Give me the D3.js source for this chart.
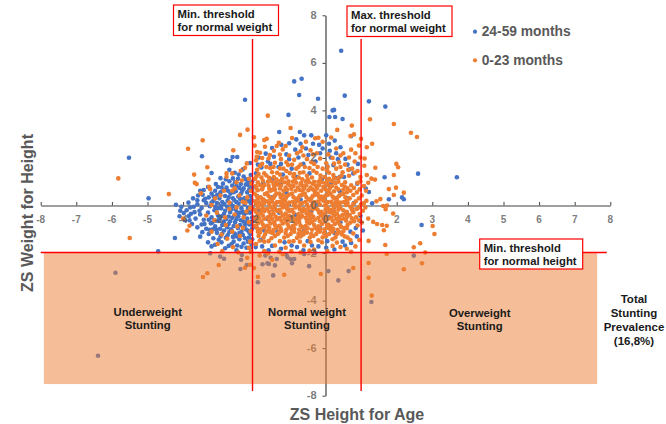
<!DOCTYPE html>
<html><head><meta charset="utf-8">
<script src="https://cdn.jsdelivr.net/npm/d3@7"></script>
<style>html,body{margin:0;padding:0;background:#fff}svg{display:block}text{font-family:"Liberation Sans",Arial,sans-serif;font-weight:bold}</style>
</head><body><svg id="c" width="666" height="424"></svg>
<script>
const tickValues=[-8,-7,-6,-5,-4,-3,-2,-1,0,1,2,3,4,5,6,7,8];
const yTickValues=[-8,-6,-4,-2,0,2,4,6,8];
const thresholds={weightMin:-2.05,weightMax:1.0,heightMin:-1.98};
const blueOutliers=[[-5.52,2.01],[-4.97,.3],[-2.26,4.45],[-.88,5.22],[-.67,5.33],[-.74,4.65],[-.21,4.49],[-1.04,3.81],[-1.3,3.09],[-.72,3.09],[.11,3.72],[.2,4.0],[-3.47,2.07],[-2.78,1.91],[-2.66,1.87],[-2.61,2.04],[-2.48,2.04],[-2.12,1.79],[-3.2,1.37],[.44,6.51],[.54,4.62],[1.22,4.38],[1.68,4.16],[.24,4.02],[.27,3.72],[.48,3.64],[.72,2.92],[2.6,1.34],[3.69,1.19],[1.66,1.19],[2.15,.34],[2.2,.26],[1.78,.26],[1.31,.09],[1.22,.57],[1.13,.71],[.89,.92],[.91,1.75],[.68,1.52],[.56,1.96],[.26,2.73],[.52,1.2],[.4,1.2],[.27,1.15],[2.7,-.82],[-4.7,-1.93],[-4.23,-1.37],[-3.52,-1.31],[-5.9,-2.83],[-6.39,-6.32],[-2.96,-2.15],[-2.85,-2.24],[-3.24,-2.01],[-2.35,-2.08],[-2.37,-2.28],[-2.21,-2.5],[-2.39,-2.67],[-1.77,-2.47],[-1.63,-2.43],[-1.59,-2.46],[-1.42,-2.52],[-1.47,-2.94],[-1.9,-3.23],[-1.69,-2.1],[-1.54,-2.2],[-1.37,-2.25],[-1.07,-2.17],[-.88,-2.25],[-.98,-2.26],[-.94,-2.43],[-.46,-2.55],[.08,-2.76],[-.6,-2.04],[-1.1,-2.06],[-.3,-2.0],[2.48,-2.11],[.65,-2.76],[.36,-3.15],[1.29,-4.06]];
const blueLeft=[[-4.2,.03],[-4.05,-.05],[-3.85,.12],[-3.72,.3],[-3.58,.42],[-3.45,.45],[-3.38,.28],[-3.2,.5],[-3.1,.62],[-3.02,.78],[-2.95,.55],[-2.88,.92],[-2.78,.75],[-2.7,1.02],[-2.62,.84],[-2.54,.98],[-2.46,1.12],[-2.38,.9],[-2.3,.72],[-2.24,1.1],[-2.15,.85],[-2.1,1.28],[-3.9,-.2],[-3.7,-.05],[-3.6,.05],[-3.48,-.1],[-3.35,.1],[-3.25,-.03],[-3.15,.2],[-3.05,.1],[-2.98,.3],[-2.9,.15],[-2.82,.4],[-2.75,.2],[-2.67,.5],[-2.6,.3],[-2.52,.6],[-2.45,.38],[-2.37,.5],[-2.28,.3],[-2.2,.55],[-2.12,.4],[-4.1,-.45],[-3.95,-.62],[-3.78,-.35],[-3.65,-.55],[-3.52,-.38],[-3.42,-.6],[-3.3,-.3],[-3.2,-.5],[-3.12,-.2],[-3.02,-.42],[-2.93,-.12],[-2.85,-.35],[-2.76,-.05],[-2.68,-.28],[-2.6,-.02],[-2.52,-.18],[-2.44,.08],[-2.36,-.12],[-2.27,.05],[-2.18,-.1],[-2.1,.1],[-3.6,-.92],[-3.48,-.8],[-3.35,-.98],[-3.22,-.75],[-3.1,-.88],[-3,-.65],[-2.9,-.82],[-2.8,-.58],[-2.72,-.78],[-2.62,-.52],[-2.54,-.7],[-2.45,-.45],[-2.38,-.62],[-2.28,-.38],[-2.2,-.55],[-2.12,-.3],[-2.06,-.5],[-3.28,-1.2],[-3.15,-1.38],[-3.05,-1.15],[-2.95,-1.3],[-2.85,-1.05],[-2.75,-1.25],[-2.65,-1.0],[-2.55,-1.18],[-2.46,-.95],[-2.36,-1.1],[-2.27,-.85],[-2.18,-1.05],[-2.08,-.8],[-3.1,-1.65],[-2.92,-1.55],[-2.72,-1.7],[-2.58,-1.52],[-2.42,-1.42],[-2.3,-1.6],[-2.15,-1.35],[-2.08,-1.62],[-2.1,-1.2],[-2.22,-1.78]];
const blueLeftExtra=[[-2.06,1.0],[-2.14,.68],[-2.07,.62],[-2.24,.88],[-2.34,.62],[-2.42,.74],[-2.5,.82],[-2.58,.56],[-2.74,.62],[-2.86,.64],[-2.92,.76],[-3.04,.45],[-3.14,.38],[-3.28,.34],[-2.08,.24],[-2.16,.18],[-2.24,.26],[-2.34,.2],[-2.4,.28],[-2.5,.14],[-2.56,.22],[-2.66,.08],[-2.72,.34],[-2.84,.06],[-2.94,-.02],[-3.02,-.12],[-3.1,-.05],[-3.2,.12],[-3.42,.22],[-3.54,-.22],[-3.68,-.28],[-3.84,-.44],[-2.05,-.14],[-2.14,-.24],[-2.22,-.3],[-2.32,-.26],[-2.4,-.3],[-2.48,-.3],[-2.56,-.42],[-2.64,-.16],[-2.72,-.46],[-2.82,-.22],[-2.9,-.44],[-2.98,-.54],[-3.08,-.64],[-3.18,-.72],[-3.28,-.6],[-3.4,-.78],[-2.06,-.66],[-2.14,-.8],[-2.22,-.72],[-2.3,-.68],[-2.4,-.82],[-2.5,-.58],[-2.58,-.86],[-2.68,-.66],[-2.76,-.92],[-2.86,-.7],[-2.96,-.98],[-3.06,-1.02],[-3.16,-1.0],[-3.26,-1.02],[-2.06,-.98],[-2.14,-1.14],[-2.24,-1.0],[-2.32,-1.24],[-2.42,-1.16],[-2.5,-1.3],[-2.6,-1.32],[-2.7,-1.12],[-2.8,-1.36],[-2.9,-1.18],[-3,-1.44],[-2.06,-1.42],[-2.18,-1.52],[-2.26,-1.38],[-2.36,-1.74],[-2.48,-1.68],[-2.64,-1.62],[-2.82,-1.8],[-2.12,-1.78],[-2.5,-1.88],[-2.05,.78],[-2.18,.98],[-2.3,1.22],[-2.44,1.3],[-2.6,1.14],[-2.8,1.1],[-2.95,1.15],[-3.08,.9],[-3.3,.78],[-3.42,.65],[-3.6,.22],[-3.8,-.08],[-3.98,-.32],[-4.08,-.22],[-3.75,-.78],[-3.82,-.62],[-3.46,-1.12],[-3.3,-1.55],[-3.2,-1.72],[-3.52,.62],[-2.55,1.38],[-2.32,1.52],[-2.7,1.5]];
const blueCentre=[[-1.95,1.35],[-1.8,1.6],[-1.62,1.85],[-1.45,2.05],[-1.25,1.75],[-1.1,2.15],[-.85,2.35],[-.7,2.6],[-.55,2.4],[-.4,2.95],[-.18,2.55],[.02,2.95],[.12,2.3],[-.95,1.55],[-.62,1.75],[-.28,1.85],[.05,1.65],[.22,1.7],[-1.75,.95],[-1.5,1.1],[-1.2,1.3],[-.8,1.2],[-.45,1.35],[-.1,1.1],[.15,.9],[.4,.6],[.62,.3],[.8,.1],[.6,-.35],[.42,-.7],[.25,-1.15],[.05,-1.5],[-.2,-1.72],[-.5,-1.5],[-.8,-1.75],[-1.15,-1.55],[-1.5,-1.7],[-1.82,-1.45],[-1.95,-.9],[-1.88,-.2],[-1.92,.4],[-1.72,-1.05],[-1.35,-1.1],[-.95,-.95],[-.6,-1.05],[-.15,-.95],[.1,-.5],[-1.5,.35],[-1.1,.55],[-.7,.25],[-.3,.45],[-1.3,-.3],[-.85,-.4],[-.4,-.25],[.98,-.42],[1.05,-1.05],[.85,-.95],[.55,-1.68],[.7,-1.1],[-1.65,-.55],[-1.25,.9],[-.2,.05],[-1.88,2.02],[-1.68,2.18],[-1.5,2.42],[-1.24,2.55],[-1.02,2.62],[-.82,2.78],[-.6,2.95],[-.35,2.6],[-.08,2.4],[.1,2.6],[.3,2.2],[.42,2.45],[-1.9,1.72],[-1.55,1.75],[-1.32,1.62],[-1.02,1.95],[-.76,2.02],[-.48,2.12],[-.15,2.2],[.15,2.02],[.35,1.95],[.62,1.72],[.78,1.35],[-1.96,-1.75],[-1.6,-1.88],[-1.25,-1.82],[-.62,-1.88],[-.38,-1.68],[.25,-1.85],[.48,-1.52],[.72,-1.58],[.88,-1.3],[-1.78,-1.72],[-.95,-1.68],[.02,-1.78]];
const orangeOutliers=[[1.25,3.63],[1.92,3.43],[2.4,3.06],[2.57,2.88],[.74,3.36],[.33,3.18],[.8,2.99],[.7,2.92],[1,2.81],[.94,2.52],[1.31,2.6],[1.16,2.45],[1.99,1.75],[2.04,1.61],[1.4,1.59],[1.92,1.28],[1.09,1.67],[1.29,1.13],[1.39,1.09],[1.16,1.28],[1.78,.69],[1.98,.75],[1.92,.44],[2.2,.54],[1.54,.27],[1.43,.18],[1.62,-.02],[1.73,0],[1.69,-.16],[1.9,-.34],[1.2,-.55],[1.34,-.69],[1.45,-.78],[1.59,-.82],[1.72,-.85],[1.64,-1.04],[3.01,-.86],[3.06,-1.2],[2.66,-1.59],[2.48,-1.76],[1.68,-1.66],[1.21,-1.49],[.95,-1.45],[2.8,-1.98],[1.72,-2.04],[1.21,-2.42],[2.71,-2.43],[2.2,-2.68],[.78,-2.63],[1.21,-3.04],[1.3,-3.79],[-5.5,-1.37],[-3.44,-3.01],[-3.32,-2.85],[-3,-2.5],[-2.26,-2.62],[-2.12,-2.49],[-2.01,-2.63],[-1.9,-3],[-1.16,-2.91],[-.13,-2.88],[-2.2,-2.2],[-1.85,-2.1],[-1.5,-2.28],[-1.2,-2.05],[-1.62,-2.02],[-5.82,1.14],[-4.4,.48],[-3.86,2.39],[-3.45,2.74],[-3.69,1.3],[-3.32,1.61],[-3.67,.96],[-3.62,.9],[-3.29,1.1],[-3.27,.79],[-3.24,.69],[-3.5,.51],[-2.59,2.32],[-2.4,2.97],[-2.19,3.19],[-1.62,3.78],[-.98,3.26],[-2.01,2.87],[-.94,2.84],[-1.72,2.75],[-1.65,2.81],[-1.31,2.64],[-1.99,2.52],[-1.7,2.47],[-1.45,2.3],[-1.37,2.5],[-1.2,2.36],[-2.21,1.77],[-2.26,1.59],[-2.38,1.46],[-2.62,1.35],[-2.78,1.35],[-2.78,1.21],[-1.92,2.25],[-1.84,2.22],[-1.93,2.05],[-.55,2.68],[-.29,2.83],[-.2,2.85],[-.42,2.32],[-.35,2.15],[-.8,2.2],[-.7,2.28],[-4,-.55],[-3.82,-.85],[-3.88,-1.05],[-3.2,-1.1],[-3.1,.3],[-2.85,.62],[-2.55,.72],[-2.35,1.05],[-2.15,1.12],[-2.42,.42],[-2.7,.12],[-2.25,.12],[-3.05,-.3],[-2.55,-.38],[-2.22,-.25],[-2.8,-.82],[-2.48,-.88],[-2.15,-.7],[-3.03,-1.62],[-2.6,-1.75],[-2.4,-1.28],[-2.12,-1.52],[-2.9,-1.92],[-2.45,-1.98],[-2.1,-1.95],[-2.76,-1.4]];
const orangeLeftExtra=[[-2.1,.62],[-2.32,.16],[-2.62,.62],[-2.95,.42],[-3.2,.02],[-2.5,-.08],[-2.82,-.5],[-3.12,-.62],[-2.3,-.5],[-2.1,-1.08],[-2.62,-1.1],[-2.32,-.94],[-2.92,-1.22],[-2.12,-.12],[-2.2,.34],[-2.08,.92],[-2.5,.98],[-3.35,-.42],[-2.15,-1.78],[-2.7,-.15]];
const orangeDense=[[-1.95,1.9],[-1.78,1.75],[-1.6,1.98],[-1.42,1.8],[-1.25,1.95],[-1.05,1.7],[-.88,1.92],[-.7,1.72],[-.52,1.95],[-.32,1.75],[-.15,1.98],[.02,1.78],[.2,2],[.38,1.82],[.55,1.72],[.75,1.55],[.9,1.45],[-1.92,1.5],[-1.72,1.35],[-1.55,1.58],[-1.36,1.38],[-1.18,1.55],[-1,1.36],[-.82,1.55],[-.62,1.4],[-.45,1.58],[-.25,1.38],[-.08,1.55],[.1,1.38],[.3,1.55],[.48,1.4],[.66,1.25],[.82,1.38],[.98,1.2],[-1.98,1.12],[-1.8,1.18],[-1.62,1.0],[-1.45,1.2],[-1.28,1.02],[-1.1,1.18],[-.92,1],[-.75,1.18],[-.55,1],[-.38,1.18],[-.2,1],[-.02,1.2],[.18,1.02],[.36,1.15],[.55,.98],[.72,.85],[.9,.95],[1.08,.82],[-1.96,.82],[-1.78,.68],[-1.6,.84],[-1.42,.66],[-1.25,.84],[-1.08,.66],[-.9,.82],[-.72,.65],[-.54,.84],[-.36,.68],[-.18,.85],[0,.68],[.18,.82],[.36,.68],[.54,.8],[.7,.62],[.88,.55],[1.02,.42],[1.15,.2],[-1.99,.5],[-1.82,.35],[-1.64,.52],[-1.46,.32],[-1.3,.5],[-1.12,.3],[-.94,.5],[-.76,.32],[-.58,.5],[-.4,.3],[-.22,.5],[-.04,.32],[.14,.5],[.32,.32],[.5,.48],[.68,.3],[.85,.18],[1.0,.05],[-1.97,.18],[-1.8,.02],[-1.62,.18],[-1.44,0],[-1.28,.16],[-1.1,0],[-.92,.16],[-.74,-.02],[-.56,.16],[-.38,0],[-.2,.18],[-.02,0],[.16,.16],[.34,-.02],[.52,.14],[.7,-.05],[.88,-.15],[1.05,-.22],[-1.99,-.18],[-1.82,-.32],[-1.64,-.15],[-1.46,-.34],[-1.3,-.18],[-1.12,-.34],[-.94,-.18],[-.76,-.36],[-.58,-.18],[-.4,-.36],[-.22,-.18],[-.04,-.35],[.14,-.18],[.32,-.35],[.5,-.2],[.68,-.4],[.86,-.5],[-1.97,-.52],[-1.8,-.68],[-1.62,-.5],[-1.44,-.7],[-1.28,-.52],[-1.1,-.68],[-.92,-.5],[-.74,-.7],[-.56,-.52],[-.38,-.7],[-.2,-.52],[-.02,-.68],[.16,-.52],[.34,-.68],[.52,-.56],[.7,-.72],[1.02,-.72],[-1.98,-.85],[-1.82,-1],[-1.64,-.85],[-1.46,-1.02],[-1.3,-.85],[-1.1,-1.02],[-.92,-.86],[-.74,-1.02],[-.56,-.86],[-.38,-1.02],[-.2,-.88],[-.02,-1],[.16,-.88],[.34,-1.02],[.54,-.95],[.78,-1.18],[-1.88,-1.28],[-1.7,-1.22],[-1.52,-1.38],[-1.34,-1.2],[-1.16,-1.35],[-.98,-1.2],[-.8,-1.36],[-.62,-1.22],[-.44,-1.35],[-.26,-1.2],[-.08,-1.34],[.1,-1.2],[.28,-1.34],[.46,-1.22],[.62,-1.35],[-1.95,-1.62],[-1.72,-1.52],[-1.42,-1.68],[-1.12,-1.78],[-.9,-1.5],[-.6,-1.68],[-.32,-1.85],[-.1,-1.55],[.2,-1.7],[.42,-1.75],[.6,-1.82],[.72,-1.95],[-1.72,-1.92],[-1.3,-1.95],[-.96,-1.92],[-.7,-1.98],[-.45,-1.9],[.05,-1.92],[-1.5,.66],[-1.2,.44],[-.85,.1],[-.65,.62],[-.3,.58],[.08,.6],[.28,.12],[-1.55,-.42],[-1.02,-.6],[-.5,-.62],[.08,-.8],[-1.55,-1.12],[-.7,-1.12],[.2,-1.1],[-1.72,.22],[-1.38,1.1],[-.65,1.1],[.1,1.12],[.45,1.25],[-1.18,.1],[-.48,-.1],[.24,-.1],[.62,.1],[-.88,1.32],[-.12,.38],[-.75,-.6]];
const orangeCore=[[-1.88,1.32],[-1.66,1.26],[-1.5,1.4],[-1.28,1.3],[-1.1,1.45],[-.9,1.22],[-.72,1.38],[-.52,1.25],[-.34,1.46],[-.14,1.26],[.04,1.48],[.22,1.28],[-1.9,.98],[-1.72,.86],[-1.52,1.02],[-1.36,.88],[-1.16,.98],[-1,.84],[-.82,.96],[-.64,.82],[-.46,.98],[-.28,.84],[-.1,.98],[.08,.86],[.28,.94],[.46,.86],[.62,.72],[.8,.74],[.96,.68],[-1.9,.64],[-1.7,.48],[-1.54,.62],[-1.38,.5],[-1.18,.62],[-1.02,.46],[-.84,.62],[-.66,.44],[-.48,.64],[-.3,.44],[-.12,.62],[.06,.44],[.24,.6],[.42,.46],[.6,.56],[.78,.44],[.94,.3],[1.08,.1],[-1.9,.28],[-1.72,.1],[-1.54,.3],[-1.36,.14],[-1.2,.26],[-1.02,.12],[-.84,.28],[-.66,.1],[-.48,.26],[-.3,.14],[-.12,.28],[.06,.14],[.24,.3],[.42,.12],[.6,.22],[.78,.06],[.94,-.08],[1.12,-.08],[-1.9,-.08],[-1.72,-.24],[-1.54,-.06],[-1.36,-.22],[-1.2,-.08],[-1.02,-.24],[-.84,-.08],[-.66,-.26],[-.48,-.28],[-.3,-.1],[-.12,-.26],[.06,-.1],[.24,-.24],[.42,-.1],[.6,-.26],[.78,-.28],[.96,-.36],[-1.9,-.42],[-1.72,-.56],[-1.54,-.4],[-1.36,-.58],[-1.2,-.42],[-1.02,-.44],[-.84,-.6],[-.66,-.44],[-.48,-.42],[-.3,-.6],[-.12,-.42],[.06,-.58],[.24,-.42],[.42,-.58],[.6,-.48],[.8,-.66],[.94,-.62],[-1.9,-.76],[-1.72,-.92],[-1.54,-.76],[-1.38,-.94],[-1.2,-.76],[-1.02,-.92],[-.84,-.78],[-.64,-.92],[-.46,-.76],[-.28,-.94],[-.1,-.78],[.08,-.94],[.26,-.78],[.44,-.9],[.62,-.82],[.9,-.84],[-1.9,-1.1],[-1.74,-1.34],[-1.6,-1.02],[-1.42,-1.28],[-1.24,-1.06],[-1.06,-1.28],[-.88,-1.1],[-.7,-1.3],[-.52,-1.14],[-.34,-1.28],[-.16,-1.1],[.02,-1.28],[.2,-1.42],[.38,-1.12],[.54,-1.3],[.7,-1.45],[-1.85,-1.48],[-1.6,-1.5],[-1.28,-1.5],[-1.02,-1.52],[-.72,-1.52],[-.42,-1.54],[-.2,-1.46],[.32,-1.56],[.84,-1.72],[-1.84,1.66],[-1.66,1.62],[-1.46,1.62],[-1.28,1.56],[-1.1,1.82],[-.94,1.72],[-.76,1.62],[-.58,1.62],[-.4,1.82],[-.22,1.62],[.06,1.62],[.24,1.76],[.42,1.62],[.64,1.5],[.98,1.02],[1.14,.62],[1.2,.96],[-1.56,2.12],[-1.28,2.14],[-1.02,2.1],[-.62,2.1],[-.24,2.2],[.08,2.15],[.3,2.4],[.5,2.2],[.66,2.02],[.82,1.85],[.98,2.02],[1.1,1.98],[-1.78,2.0],[-1.12,2.5],[-.65,2.45],[-.08,2.68],[.16,2.86],[.42,2.1],[.84,2.2],[.72,2.35]];
const orangeFill=[[-1.94,1.22],[-1.76,1.04],[-1.58,1.16],[-1.4,.98],[-1.22,1.12],[-1.04,1.02],[-.86,1.1],[-.68,.96],[-.5,1.1],[-.32,1],[-.14,1.12],[.04,1.02],[.24,1.14],[-1.94,.72],[-1.76,.78],[-1.58,.7],[-1.44,.78],[-1.28,.72],[-1.12,.76],[-.96,.7],[-.78,.76],[-.6,.72],[-.42,.76],[-.24,.72],[-.06,.78],[.12,.72],[.3,.76],[.5,.66],[-1.93,.4],[-1.76,.26],[-1.6,.4],[-1.42,.42],[-1.26,.36],[-1.08,.4],[-.9,.36],[-.72,.42],[-.54,.36],[-.36,.4],[-.18,.36],[0,.42],[.2,.38],[.38,.4],[.56,.34],[-1.94,.06],[-1.76,.2],[-1.58,.06],[-1.4,.08],[-1.24,.02],[-1.06,.06],[-.88,.02],[-.7,.08],[-.52,.04],[-.34,.08],[-.16,.04],[.02,.08],[.2,.04],[.38,.06],[.58,.02],[.76,-.14],[-1.94,-.28],[-1.76,-.12],[-1.58,-.26],[-1.42,-.14],[-1.26,-.28],[-1.08,-.14],[-.9,-.3],[-.72,-.16],[-.54,-.32],[-.36,-.16],[-.18,-.3],[0,-.18],[.18,-.3],[.36,-.18],[.56,-.34],[.74,-.18],[-1.93,-.64],[-1.76,-.42],[-1.58,-.64],[-1.4,-.46],[-1.24,-.64],[-1.06,-.46],[-.88,-.66],[-.7,-.5],[-.52,-.68],[-.34,-.48],[-.16,-.66],[.02,-.46],[.2,-.64],[.38,-.46],[.58,-.64],[.74,-.54],[-1.92,-.96],[-1.76,-.8],[-1.58,-.94],[-1.42,-.82],[-1.26,-.96],[-1.06,-.8],[-.88,-.96],[-.7,-.84],[-.5,-.96],[-.32,-.82],[-.14,-1],[.04,-.84],[.22,-.98],[.4,-.8],[.6,-.96],[-1.84,-1.14],[-1.66,-1.1],[-1.48,-1.16],[-1.3,-1.12],[-1.12,-1.16],[-.94,-1.04],[-.76,-1.2],[-.58,-1.08],[-.4,-1.2],[-.22,-1.04],[-.04,-1.16],[.14,-1.02],[.32,-1.2],[.5,-1.08],[-1.84,.86],[-1.46,.9],[-1.06,.92],[-.7,.88],[-.36,.92],[0,.92],[.36,1],[-1.86,.12],[-1.5,.16],[-1.14,.2],[-.78,.2],[-.42,.2],[-.06,.2],[.32,.2],[-1.86,-.54],[-1.5,-.56],[-1.14,-.56],[-.78,-.52],[-.42,-.54],[-.06,-.56],[.3,-.56],[-1.8,-.18],[-1.48,-.18],[-1.04,-.16],[-.62,-.14],[-.26,-.12],[.1,-.28],[.48,-.4]];
const allBlue=[...blueOutliers,...blueLeft,...blueLeftExtra,...blueCentre];
const allOrange=[...orangeOutliers,...orangeLeftExtra,...orangeDense,...orangeCore,...orangeFill];

const svg=d3.select('#c');
const x=d3.scaleLinear().domain([-8,8]).range([40.7,610.3]);
const y=d3.scaleLinear().domain([-8,8]).range([395.7,15.3]);
const grey='#595959';
const xAxis=d3.axisBottom(x).tickValues(tickValues).tickSize(0).tickPadding(0).tickFormat(d3.format('d'));
const gx=svg.append('g').attr('transform',`translate(0,${y(0)})`).call(xAxis);
gx.selectAll('.tick line').attr('y1',-3.5).attr('y2',0).attr('stroke','#404040');
gx.select('.domain').attr('stroke','#404040').attr('stroke-width',1.2);
const yAxis=d3.axisLeft(y).tickValues(yTickValues).tickSize(0).tickFormat(d3.format('d'));
const gy=svg.append('g').attr('transform',`translate(${x(0)},0)`).call(yAxis);
gy.selectAll('.tick line').attr('x1',-3).attr('x2',0).attr('stroke','#404040');
gy.select('.domain').attr('stroke','#404040').attr('stroke-width',1.2);
gx.selectAll('text').remove();
gy.selectAll('text').remove();

const dots=(data,color)=>svg.append('g').selectAll('circle').data(data).join('circle')
  .attr('cx',d=>x(d[0])).attr('cy',d=>y(d[1])).attr('r',2.3).attr('fill',color);
dots(allBlue,'#4472c4');
dots(allOrange,'#ed7d31');

// tick labels sit over the points and under the shaded band
const labels=svg.append('g').attr('fill',grey).attr('fill-opacity',.8);
labels.selectAll('.xl').data(tickValues).join('text').attr('x',d=>x(d)).attr('y',y(0)+17.5).attr('text-anchor','middle').attr('font-size',10).text(d=>d);
labels.selectAll('.yl').data(yTickValues).join('text').attr('x',x(0)-9).attr('y',d=>y(d)+3.5).attr('text-anchor','end').attr('font-size',11).text(d=>d);

svg.append('rect').attr('x',x(-7.91)).attr('y',y(thresholds.heightMin)).attr('width',x(7.63)-x(-7.91)).attr('height',y(-7.51)-y(thresholds.heightMin)).attr('fill','#ed7d31').attr('fill-opacity',.5);

const red='#fe0000';
const vline=(v,y1)=>svg.append('line').attr('x1',x(v)).attr('x2',x(v)).attr('y1',y1).attr('y2',y(-7.8)).attr('stroke',red).attr('stroke-width',1.4);
vline(thresholds.weightMin,y(7)); vline(thresholds.weightMax,y(7));
svg.append('line').attr('x1',x(-8)).attr('x2',x(7.9)).attr('y1',y(thresholds.heightMin)).attr('y2',y(thresholds.heightMin)).attr('stroke',red).attr('stroke-width',1.4);

const note=(bx,by,bw,bh,lines)=>{
  svg.append('rect').attr('x',bx).attr('y',by).attr('width',bw).attr('height',bh).attr('fill','#fff').attr('stroke',red).attr('stroke-width',1.2);
  lines.forEach((t,i)=>svg.append('text').attr('x',bx+4).attr('y',by+13+i*13).attr('font-size',11.3).attr('fill','#1a1a1a').text(t));
};
note(173.5,5,105,30.5,['Min. threshold','for normal weight']);
note(347,6,105,30.5,['Max. threshold','for normal weight']);
note(479.7,239,103,30,['Min. threshold','for normal height']);

const centered=(cx,cy,lines,step=13,fs=11.3)=>lines.forEach((t,i)=>svg.append('text').attr('x',cx).attr('y',cy+i*step).attr('text-anchor','middle').attr('font-size',fs).attr('fill','#1a1a1a').text(t));
centered(147.7,316,['Underweight','Stunting']);
centered(307,316,['Normal weight','Stunting']);
centered(479.7,317,['Overweight','Stunting']);
centered(634,303,['Total','Stunting','Prevalence','(16,8%)'],14,11.5);

[['24-59 months','#4472c4',31.7],['0-23 months','#ed7d31',60.3]].forEach(([t,c,py])=>{
  svg.append('circle').attr('cx',475).attr('cy',py).attr('r',2.1).attr('fill',c);
  svg.append('text').attr('x',481.7).attr('y',py+4.5).attr('font-size',13.8).attr('fill',grey).text(t);
});
svg.append('text').attr('x',357).attr('y',419.5).attr('text-anchor','middle').attr('font-size',16).attr('fill',grey).text('ZS Height for Age');
svg.append('text').attr('transform','translate(32.5,213) rotate(-90)').attr('text-anchor','middle').attr('font-size',16).attr('fill',grey).text('ZS Weight for Height');
</script></body></html>
